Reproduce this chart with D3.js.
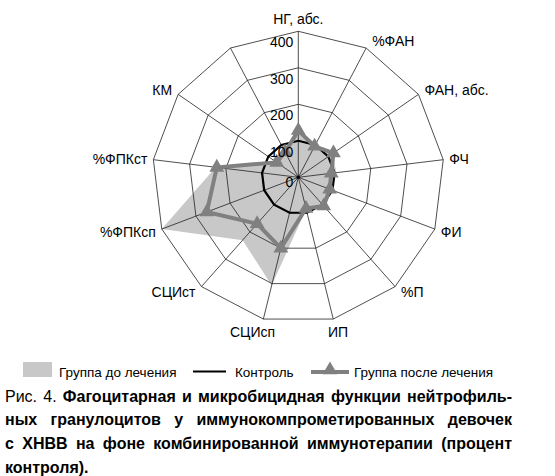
<!DOCTYPE html>
<html>
<head>
<meta charset="utf-8">
<script src="https://cdn.jsdelivr.net/npm/d3@7"></script>
<style>
  body { margin: 0; background: #fff; }
  svg { display: block; font-family: "Liberation Sans", Arial, sans-serif; }
</style>
</head>
<body>
<svg id="chart" width="555" height="476"></svg>
<script>
// axis names, the 13th spoke has no label in the original
var categories = ["НГ, абс.", "%ФАН", "ФАН, абс.", "ФЧ", "ФИ", "%П", "ИП", "СЦИсп", "СЦИст", "%ФПКсп", "%ФПКст", "КМ", ""];
var beforeValues  = [130, 100, 115, 105, 100, 100, 90, 305, 230, 400, 228, 78, 85];
var controlValues = [100, 100, 100, 100, 100, 100, 100, 100, 100, 100, 100, 100, 100];
var afterValues   = [128, 96, 117, 91, 92, 105, 88, 200, 170, 268, 225, 72, 78];
var ticks = [0, 100, 200, 300, 400];

var legendNames = ["Группа до лечения", "Контроль", "Группа после лечения"];
var captionLines = [
  [["Рис.", false], ["4.", false], ["Фагоцитарная", true], ["и", true], ["микробицидная", true], ["функции", true], ["нейтрофиль-", true]],
  [["ных", true], ["гранулоцитов", true], ["у", true], ["иммунокомпрометированных", true], ["девочек", true]],
  [["с", true], ["ХНВВ", true], ["на", true], ["фоне", true], ["комбинированной", true], ["иммунотерапии", true], ["(процент", true]],
  [["контроля).", true]]
];

var svg = d3.select("#chart");
var cx = 298.3, cy = 177.3, R = 146;
var n = categories.length;

var r = d3.scaleLinear().domain([0, 400]).range([0, R]);
var angle = d3.scaleLinear().domain([0, n]).range([0, 2 * Math.PI]);

var fillGray = "#c8c8c8";
var lineGray = "#808080";

var g = svg.append("g").attr("transform", "translate(" + cx + "," + cy + ")");

var radial = d3.lineRadial()
  .angle(function(d, i) { return angle(i); })
  .radius(function(d) { return r(d); })
  .curve(d3.curveLinearClosed);

// group before treatment, filled
g.append("path")
  .attr("d", radial(beforeValues))
  .attr("fill", fillGray)
  .attr("stroke", "none");

// rings
ticks.filter(function(t) { return t > 0; }).forEach(function(t) {
  g.append("path")
    .attr("d", radial(categories.map(function() { return t; })))
    .attr("fill", "none")
    .attr("stroke", "#222")
    .attr("stroke-width", 0.8);
});

// spokes
g.selectAll("line.spoke")
  .data(categories)
  .enter()
  .append("line")
  .attr("class", "spoke")
  .attr("x1", 0).attr("y1", 0)
  .attr("x2", function(d, i) { return R * Math.sin(angle(i)); })
  .attr("y2", function(d, i) { return -R * Math.cos(angle(i)); })
  .attr("stroke", "#222")
  .attr("stroke-width", 0.8);

g.append("circle").attr("r", 1.8).attr("fill", "#000");

// control
g.append("path")
  .attr("d", radial(controlValues))
  .attr("fill", "none")
  .attr("stroke", "#000")
  .attr("stroke-width", 2.2);

// group after treatment
g.append("path")
  .attr("d", radial(afterValues))
  .attr("fill", "none")
  .attr("stroke", lineGray)
  .attr("stroke-width", 4)
  .attr("stroke-linejoin", "round");

var tri = d3.symbol().type(d3.symbolTriangle).size(95);
g.selectAll("path.mark")
  .data(afterValues)
  .enter()
  .append("path")
  .attr("class", "mark")
  .attr("d", tri)
  .attr("fill", lineGray)
  .attr("transform", function(d, i) {
    return "translate(" + (r(d) * Math.sin(angle(i))) + "," + (-r(d) * Math.cos(angle(i))) + ")";
  });

// value labels
g.selectAll("text.tick")
  .data(ticks)
  .enter()
  .append("text")
  .attr("class", "tick")
  .attr("x", -5)
  .attr("y", function(d) { return -r(d) + (d === 0 ? 5 : 11); })
  .attr("dy", "0.35em")
  .attr("text-anchor", "end")
  .attr("font-size", 14)
  .text(function(d) { return d; });

// axis labels
categories.forEach(function(name, i) {
  if (!name) return;
  var s = Math.sin(angle(i)), c = Math.cos(angle(i));
  var vx = R * s, vy = -R * c;
  var t = g.append("text").attr("font-size", 14).attr("dy", "0.35em").text(name);
  if (Math.abs(s) < 0.3) {
    var w = t.node().getComputedTextLength();
    t.attr("text-anchor", "middle")
      .attr("x", vx + s * w)
      .attr("y", c > 0 ? vy - 12 : vy + 13);
  } else {
    t.attr("text-anchor", s > 0 ? "start" : "end")
      .attr("x", vx + (s > 0 ? 6 : -6))
      .attr("y", vy - c * 8);
  }
});

// legend
var leg = svg.append("g").attr("font-size", 13.5);
leg.append("rect").attr("x", 23).attr("y", 362).attr("width", 29).attr("height", 15).attr("fill", fillGray);
leg.append("text").attr("x", 59).attr("y", 377).text(legendNames[0]);
leg.append("line").attr("x1", 193).attr("x2", 226).attr("y1", 371.5).attr("y2", 371.5)
  .attr("stroke", "#000").attr("stroke-width", 2);
leg.append("text").attr("x", 235).attr("y", 377).text(legendNames[1]);
leg.append("line").attr("x1", 311).attr("x2", 349).attr("y1", 372).attr("y2", 372)
  .attr("stroke", lineGray).attr("stroke-width", 4);
leg.append("path").attr("d", tri).attr("fill", lineGray).attr("transform", "translate(330,370)");
leg.append("text").attr("x", 354).attr("y", 377).text(legendNames[2]);

// caption, justified like the printed figure
var capLeft = 5, capRight = 512, capTop = 401.5, capStep = 23.8;
captionLines.forEach(function(words, li) {
  var y = capTop + li * capStep;
  var nodes = words.map(function(w) {
    return svg.append("text")
      .attr("y", y)
      .attr("font-size", 16)
      .attr("font-weight", w[1] ? "bold" : "normal")
      .text(w[0]);
  });
  var widths = nodes.map(function(t) { return t.node().getComputedTextLength(); });
  var total = d3.sum(widths);
  var last = li === captionLines.length - 1;
  var gap = (last || words.length < 2) ? 4.5 : (capRight - capLeft - total) / (words.length - 1);
  var x = capLeft;
  nodes.forEach(function(t, k) {
    t.attr("x", x);
    x += widths[k] + gap;
  });
});
</script>
</body>
</html>
